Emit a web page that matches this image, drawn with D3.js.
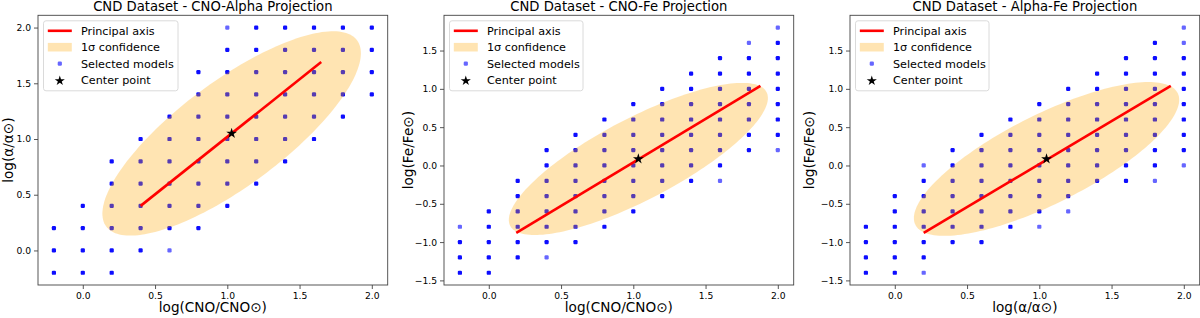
<!DOCTYPE html>
<html>
<head>
<meta charset="utf-8">
<script src="https://cdn.jsdelivr.net/npm/d3@7"></script>
<style>
  body { margin: 0; background: #fff; }
  svg { display: block; }
  text { font-family: "DejaVu Sans", sans-serif; fill: #000; }
</style>
</head>
<body>
<svg id="chart" width="1200" height="318"></svg>
<script>
// model grid: [x, list of y values] for columns with several overlapping models
const cnoAlphaCols = [
  [-0.2, [0.2, 0.0, -0.2]],
  [0.0, [0.4, 0.2, 0.0, -0.2]],
  [0.2, [0.8, 0.6, 0.4, 0.2, 0.0, -0.2]],
  [0.4, [1.0, 0.8, 0.6, 0.4, 0.2, 0.0]],
  [0.6, [1.2, 1.0, 0.8, 0.6, 0.4, 0.2]],
  [0.8, [1.6, 1.4, 1.2, 1.0, 0.8, 0.6, 0.4, 0.2]],
  [1.0, [1.8, 1.6, 1.4, 1.2, 1.0, 0.8, 0.6, 0.4]],
  [1.2, [2.0, 1.8, 1.6, 1.4, 1.2, 1.0, 0.8, 0.6]],
  [1.4, [2.0, 1.8, 1.6, 1.4, 1.2, 1.0, 0.8]],
  [1.6, [2.0, 1.8, 1.6, 1.4, 1.2, 1.0]],
  [1.8, [2.0, 1.8, 1.6, 1.4, 1.2]],
  [2.0, [2.0, 1.8, 1.6, 1.4]]
];
// grid cells holding a single model (drawn lighter)
const cnoAlphaSingle = [[0.6, 0.0], [1.0, 2.0]];

const cnoFeCols = [
  [-0.2, [-1.0, -1.2, -1.4]],
  [0.0, [-0.6, -0.8, -1.0, -1.2, -1.4]],
  [0.2, [-0.2, -0.4, -0.6, -0.8, -1.0, -1.2]],
  [0.4, [0.2, 0.0, -0.2, -0.4, -0.6, -0.8, -1.0]],
  [0.6, [0.4, 0.2, 0.0, -0.2, -0.4, -0.6, -0.8, -1.0]],
  [0.8, [0.6, 0.4, 0.2, 0.0, -0.2, -0.4, -0.6, -0.8]],
  [1.0, [0.8, 0.6, 0.4, 0.2, 0.0, -0.2, -0.4, -0.6]],
  [1.2, [1.0, 0.8, 0.6, 0.4, 0.2, 0.0, -0.2, -0.4]],
  [1.4, [1.2, 1.0, 0.8, 0.6, 0.4, 0.2, 0.0, -0.2]],
  [1.6, [1.4, 1.2, 1.0, 0.8, 0.6, 0.4, 0.2, 0.0]],
  [1.8, [1.4, 1.2, 1.0, 0.8, 0.6, 0.4, 0.2]],
  [2.0, [1.6, 1.4, 1.2, 1.0, 0.8, 0.6, 0.4]]
];
const cnoFeSingle = [[-0.2, -0.8], [0.4, -1.2], [1.6, -0.2], [1.8, 1.6], [2.0, 1.8], [2.0, 0.2]];

const alphaFeCols = [
  [-0.2, [-0.8, -1.0, -1.2, -1.4]],
  [0.0, [-0.4, -0.6, -0.8, -1.0, -1.2, -1.4]],
  [0.2, [-0.2, -0.4, -0.6, -0.8, -1.0, -1.2]],
  [0.4, [0.2, 0.0, -0.2, -0.4, -0.6, -0.8, -1.0]],
  [0.6, [0.4, 0.2, 0.0, -0.2, -0.4, -0.6, -0.8, -1.0]],
  [0.8, [0.6, 0.4, 0.2, 0.0, -0.2, -0.4, -0.6, -0.8]],
  [1.0, [0.8, 0.6, 0.4, 0.2, 0.0, -0.2, -0.4, -0.6]],
  [1.2, [1.0, 0.8, 0.6, 0.4, 0.2, 0.0, -0.2, -0.4]],
  [1.4, [1.2, 1.0, 0.8, 0.6, 0.4, 0.2, 0.0, -0.2]],
  [1.6, [1.4, 1.2, 1.0, 0.8, 0.6, 0.4, 0.2, 0.0, -0.2]],
  [1.8, [1.6, 1.4, 1.2, 1.0, 0.8, 0.6, 0.4, 0.2, 0.0]],
  [2.0, [1.4, 1.2, 1.0, 0.8, 0.6, 0.4, 0.2]]
];
const alphaFeSingle = [[0.2, 0.0], [0.2, -1.4], [1.0, -0.8], [1.2, -0.6], [1.8, -0.2], [2.0, 1.8], [2.0, 1.6], [2.0, 0.0]];

// center point, principal axis end points, ellipse semi-axes (major, minor)
const centers = [[1.03, 1.05], [1.035, 0.085], [1.05, 0.085]];
const axisEnds = [
  [[0.40, 0.40], [1.65, 1.69]],
  [[0.19, -0.88], [1.88, 1.04]],
  [[0.20, -0.88], [1.91, 1.04]]
];
const semiAxes = [[1.21, 0.42], [1.27, 0.42], [1.28, 0.46]];

const titles = [
  "CND Dataset - CNO-Alpha Projection",
  "CND Dataset - CNO-Fe Projection",
  "CND Dataset - Alpha-Fe Projection"
];
const xLabels = ["log(CNO/CNO\u2299)", "log(CNO/CNO\u2299)", "log(\u03b1/\u03b1\u2299)"];
const yLabels = ["log(\u03b1/\u03b1\u2299)", "log(Fe/Fe\u2299)", "log(Fe/Fe\u2299)"];
const xTicks = [0.0, 0.5, 1.0, 1.5, 2.0];
const yTicksAlpha = [0.0, 0.5, 1.0, 1.5, 2.0];
const yTicksFe = [-1.5, -1.0, -0.5, 0.0, 0.5, 1.0, 1.5];
const legendLabels = ["Principal axis", "1\u03c3 confidence", "Selected models", "Center point"];

const panels = [
  { cols: cnoAlphaCols, single: cnoAlphaSingle, yDomain: [-0.31, 2.11], yTicks: yTicksAlpha },
  { cols: cnoFeCols, single: cnoFeSingle, yDomain: [-1.56, 1.96], yTicks: yTicksFe },
  { cols: alphaFeCols, single: alphaFeSingle, yDomain: [-1.56, 1.96], yTicks: yTicksFe }
];

const svg = d3.select("#chart");
const plotW = 349.7, plotH = 269.7, plotTop = 15.3;
const lefts = [38, 444, 850];
const yLabelOff = [-25.5, -31.5, -36];
const fmt = d3.format(".1f");
const dot = 4.2; // marker square size

panels.forEach((p, i) => {
  const g = svg.append("g").attr("transform", `translate(${lefts[i]},${plotTop})`);
  const x = d3.scaleLinear().domain([-0.31, 2.11]).range([0, plotW]);
  const y = d3.scaleLinear().domain(p.yDomain).range([plotH, 0]);

  const clipId = "clip" + i;
  g.append("clipPath").attr("id", clipId)
    .append("rect").attr("width", plotW).attr("height", plotH);
  const plot = g.append("g").attr("clip-path", `url(#${clipId})`);

  // selected models
  const dense = p.cols.flatMap(([xv, ys]) => ys.map(yv => [xv, yv]));
  plot.selectAll("rect.dense").data(dense).enter().append("rect")
    .attr("class", "dense")
    .attr("x", d => x(d[0]) - dot / 2).attr("y", d => y(d[1]) - dot / 2)
    .attr("width", dot).attr("height", dot).attr("rx", 1.2)
    .attr("fill", "#0000ff").attr("fill-opacity", 0.95);
  plot.selectAll("rect.single").data(p.single).enter().append("rect")
    .attr("class", "single")
    .attr("x", d => x(d[0]) - dot / 2).attr("y", d => y(d[1]) - dot / 2)
    .attr("width", dot).attr("height", dot).attr("rx", 1.2)
    .attr("fill", "#0000ff").attr("fill-opacity", 0.6);

  // 1 sigma ellipse in data coordinates
  const [c0, c1] = centers[i];
  const [e0, e1] = axisEnds[i];
  const ang = Math.atan2(e1[1] - e0[1], e1[0] - e0[0]);
  const [sa, sb] = semiAxes[i];
  const ts = d3.range(0, 2 * Math.PI + 0.001, Math.PI / 90);
  const ell = ts.map(t => [
    c0 + sa * Math.cos(t) * Math.cos(ang) - sb * Math.sin(t) * Math.sin(ang),
    c1 + sa * Math.cos(t) * Math.sin(ang) + sb * Math.sin(t) * Math.cos(ang)
  ]);
  plot.append("path")
    .attr("d", d3.line().x(d => x(d[0])).y(d => y(d[1]))(ell) + "Z")
    .attr("fill", "orange").attr("fill-opacity", 0.3);

  // principal axis
  plot.append("line")
    .attr("x1", x(e0[0])).attr("y1", y(e0[1]))
    .attr("x2", x(e1[0])).attr("y2", y(e1[1]))
    .attr("stroke", "red").attr("stroke-width", 2.6);

  // center point
  plot.append("path")
    .attr("d", d3.symbol(d3.symbolStar, 36)())
    .attr("transform", `translate(${x(c0)},${y(c1)})`)
    .attr("fill", "#000");

  // axes
  const xAxis = g.append("g").attr("transform", `translate(0,${plotH})`)
    .call(d3.axisBottom(x).tickValues(xTicks).tickFormat(fmt).tickSize(4).tickPadding(3));
  const yAxis = g.append("g")
    .call(d3.axisLeft(y).tickValues(p.yTicks).tickFormat(fmt).tickSize(4).tickPadding(3));
  [xAxis, yAxis].forEach(a => {
    a.select(".domain").remove();
    a.selectAll("line").attr("stroke", "#444").attr("stroke-width", 0.9);
    a.selectAll("text").attr("font-size", 9.2).attr("font-family", "DejaVu Sans").attr("fill", "#000");
  });

  g.append("rect").attr("width", plotW).attr("height", plotH)
    .attr("fill", "none").attr("stroke", "#444").attr("stroke-width", 0.9);

  // titles and labels
  g.append("text").attr("x", plotW / 2).attr("y", -4.5)
    .attr("text-anchor", "middle").attr("font-size", 13.2).text(titles[i]);
  g.append("text").attr("x", plotW / 2).attr("y", plotH + 26.8)
    .attr("text-anchor", "middle").attr("font-size", 13.6).text(xLabels[i]);
  g.append("text")
    .attr("transform", `translate(${yLabelOff[i]},${plotH / 2}) rotate(-90)`)
    .attr("text-anchor", "middle").attr("font-size", 13.6).text(yLabels[i]);

  // legend
  const lg = g.append("g").attr("transform", "translate(5.5,5.5)");
  lg.append("rect").attr("width", i === 0 ? 134.5 : 133.5).attr("height", 70)
    .attr("rx", 2.5).attr("fill", "#fff").attr("fill-opacity", 0.8)
    .attr("stroke", "#d6d6d6").attr("stroke-width", 0.9);
  const rowY = k => 10 + k * 16.4;
  lg.append("line").attr("x1", 4.3).attr("x2", 28.3).attr("y1", rowY(0)).attr("y2", rowY(0))
    .attr("stroke", "red").attr("stroke-width", 2.6);
  lg.append("rect").attr("x", 4.3).attr("y", rowY(1) - 4.3).attr("width", 24).attr("height", 8.6)
    .attr("fill", "orange").attr("fill-opacity", 0.3);
  lg.append("rect").attr("x", 16.3 - dot / 2).attr("y", rowY(2) - dot / 2)
    .attr("width", dot).attr("height", dot).attr("rx", 1.2)
    .attr("fill", "#0000ff").attr("fill-opacity", 0.6);
  lg.append("path").attr("d", d3.symbol(d3.symbolStar, 32)())
    .attr("transform", `translate(16.3,${rowY(3) + 0.8})`).attr("fill", "#000");
  lg.selectAll("text.lbl").data(legendLabels).enter().append("text")
    .attr("class", "lbl")
    .attr("x", 37.5).attr("y", (d, k) => rowY(k) + 4)
    .attr("font-size", 11.2).text(d => d);
});
</script>
</body>
</html>
